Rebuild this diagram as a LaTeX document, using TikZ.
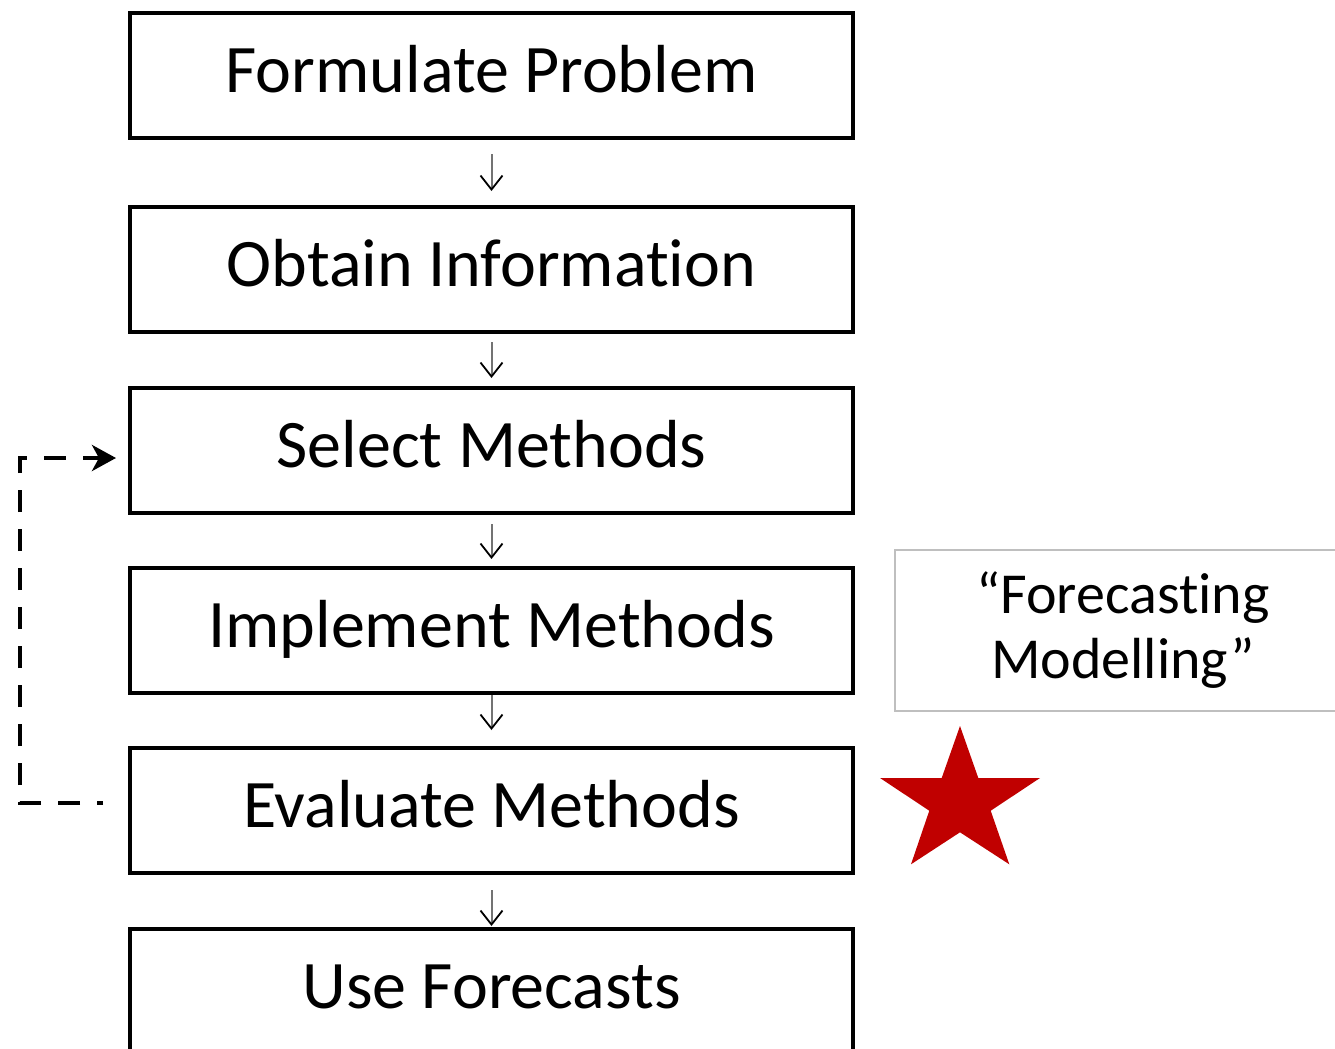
\documentclass[tikz,border=0pt]{standalone}
\usepackage{fontspec}
\setmainfont{Carlito}[Ligatures=NoCommon]
\usetikzlibrary{arrows.meta}
\definecolor{starred}{HTML}{C00000}
\definecolor{boxgray}{HTML}{BFBFBF}
\begin{document}
\begin{tikzpicture}[x=0.5pt,y=-0.5pt,
  stepbox/.style={draw=black,line width=2pt,minimum width=361.5pt,minimum height=62.5pt,
    inner sep=0pt,font=\fontsize{34}{40}\selectfont,text height=22pt,text depth=5.5pt},
  flow/.style={draw=black!55,line width=1pt,-{Straight Barb[length=7pt,width=11pt,black,line width=0.9pt]}},
  loopback/.style={draw=black,line width=2.4pt,dash pattern=on 11pt off 8.5pt,dash phase=8pt,
    -{Stealth[length=12pt,width=13pt,inset=3.5pt]}},
  notebox/.style={draw=boxgray,line width=0.75pt,minimum width=228pt,minimum height=80.5pt,
    inner sep=0pt,align=center,font=\fontsize{29}{32.5}\selectfont}]
\useasboundingbox (0,0) rectangle (1335,1049);
\clip (0,0) rectangle (1335,1049);
\fill[white] (0,0) rectangle (1335,1049);

\node[stepbox] (b1) at (491.5,75.5) {Formulate Problem};
\node[stepbox] (b2) at (491.5,269.5) {Obtain Information};
\node[stepbox] (b3) at (491.5,450.5) {Select Methods};
\node[stepbox] (b4) at (491.5,630.5) {Implement Methods};
\node[stepbox] (b5) at (491.5,810.5) {Evaluate Methods};
\node[stepbox] (b6) at (491.5,991.5) {Use Forecasts};

\draw[flow,shorten <=7pt,shorten >=7pt] (b1) -- (b2);
\draw[flow,shorten <=4pt,shorten >=4pt] (b2) -- (b3);
\draw[flow,shorten <=4.5pt,shorten >=3.5pt] (b3) -- (b4);
\draw[flow,shorten <=0pt,shorten >=8pt] (b4) -- (b5);
\draw[flow,shorten <=7.5pt,shorten >=0.5pt] (b5) -- (b6);

\coordinate (fbstart) at (103,803);
\coordinate (fbend) at (116,458);
\draw[loopback] (fbstart) -- (20,803) -- (20,458) -- (fbend);

\node[notebox] (fm) at (1123,630.5) {“Forecasting\\Modelling”};

\fill[starred] (960,726) -- (978.3,778) -- (1040,778) -- (990.7,810.7) -- (1009.3,864.3)
  -- (960,832.3) -- (911,864.3) -- (929.3,810.7) -- (880,778) -- (941.7,778) -- cycle;
\end{tikzpicture}
\end{document}
